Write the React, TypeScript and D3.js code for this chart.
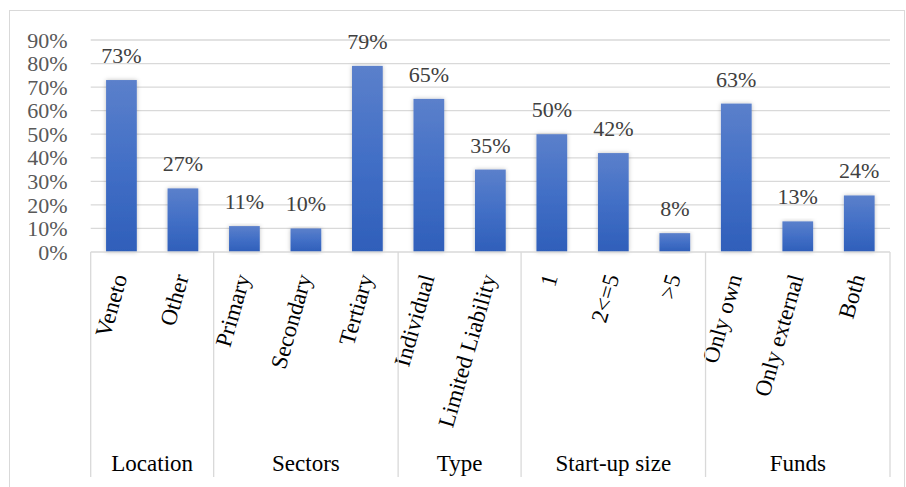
import React from "react";
import * as d3 from "d3";

const categories = ["Veneto", "Other", "Primary", "Secondary", "Tertiary", "Individual", "Limited Liability", "1", "2<=5", ">5", "Only own", "Only external", "Both"];
const values = [73, 27, 11, 10, 79, 65, 35, 50, 42, 8, 63, 13, 24];
const groups = ["Location", "Sectors", "Type", "Start-up size", "Funds"];
const groupSizes = [2, 3, 2, 3, 3];
const yTicks = [0, 10, 20, 30, 40, 50, 60, 70, 80, 90];

const W = 906, H = 487;
const plotLeft = 90.7, plotRight = 890;
const y0 = 252, yTop = 40;
const FONT = "'Liberation Serif', 'Times New Roman', serif";

export default function App() {
  const x = d3.scaleBand<string>().domain(categories).range([plotLeft, plotRight]).paddingInner(0.5).paddingOuter(0.25);
  const y = d3.scaleLinear().domain([0, 90]).range([y0, yTop]);
  const step = x.step();
  const boundaries: number[] = [0];
  groupSizes.reduce((acc, s) => { boundaries.push(acc + s); return acc + s; }, 0);
  const bx = (i: number) => plotLeft + i * step;

  return (
    <svg width={W} height={H} style={{ position: "absolute", left: 0, top: 0, background: "#fff" }}>
      <defs>
        <linearGradient id="barGrad" x1="0" y1="0" x2="0" y2="1">
          <stop offset="0" stopColor="#5b80cb" />
          <stop offset="0.5" stopColor="#426fc6" />
          <stop offset="1" stopColor="#2f5fba" />
        </linearGradient>
        <filter id="shadow" x="-30%" y="-10%" width="160%" height="120%">
          <feDropShadow dx="0" dy="0" stdDeviation="2" floodColor="#000" floodOpacity="0.25" />
        </filter>
      </defs>
      <rect x={9.5} y={10.5} width={895} height={490} fill="#fff" stroke="#d9d9d9" strokeWidth={1} />
      {yTicks.map((t) => (
        <g key={t}>
          {t > 0 && <line x1={plotLeft} x2={plotRight} y1={y(t)} y2={y(t)} stroke="#d9d9d9" strokeWidth={1.3} />}
          <text x={67.5} y={y(t)} dy="0.35em" textAnchor="end" fontFamily={FONT} fontSize={22} fill="#595959">{t}%</text>
        </g>
      ))}
      {categories.map((c, i) => (
        <g key={c}>
          <rect x={x(c)} y={y(values[i])} width={x.bandwidth()} height={y0 - y(values[i])} fill="url(#barGrad)" filter="url(#shadow)" />
          <text x={x(c)! + x.bandwidth() / 2} y={y(values[i]) - 17} textAnchor="middle" fontFamily={FONT} fontSize={22} fill="#404040">{values[i]}%</text>
          <text transform={`translate(${x(c)! + x.bandwidth() / 2 + 6},${277}) rotate(-74)`} textAnchor="end" fontFamily={FONT} fontSize={23} fill="#000">{c}</text>
        </g>
      ))}
      <line x1={plotLeft} x2={plotRight} y1={y0} y2={y0} stroke="#d9d9d9" strokeWidth={1.3} />
      {boundaries.map((b, i) => (
        <line key={i} x1={bx(b)} x2={bx(b)} y1={y0} y2={477} stroke="#d9d9d9" strokeWidth={1.3} />
      ))}
      {groups.map((g, i) => (
        <text key={g} x={(bx(boundaries[i]) + bx(boundaries[i + 1])) / 2} y={471} textAnchor="middle" fontFamily={FONT} fontSize={23} fill="#000">{g}</text>
      ))}
    </svg>
  );
}
